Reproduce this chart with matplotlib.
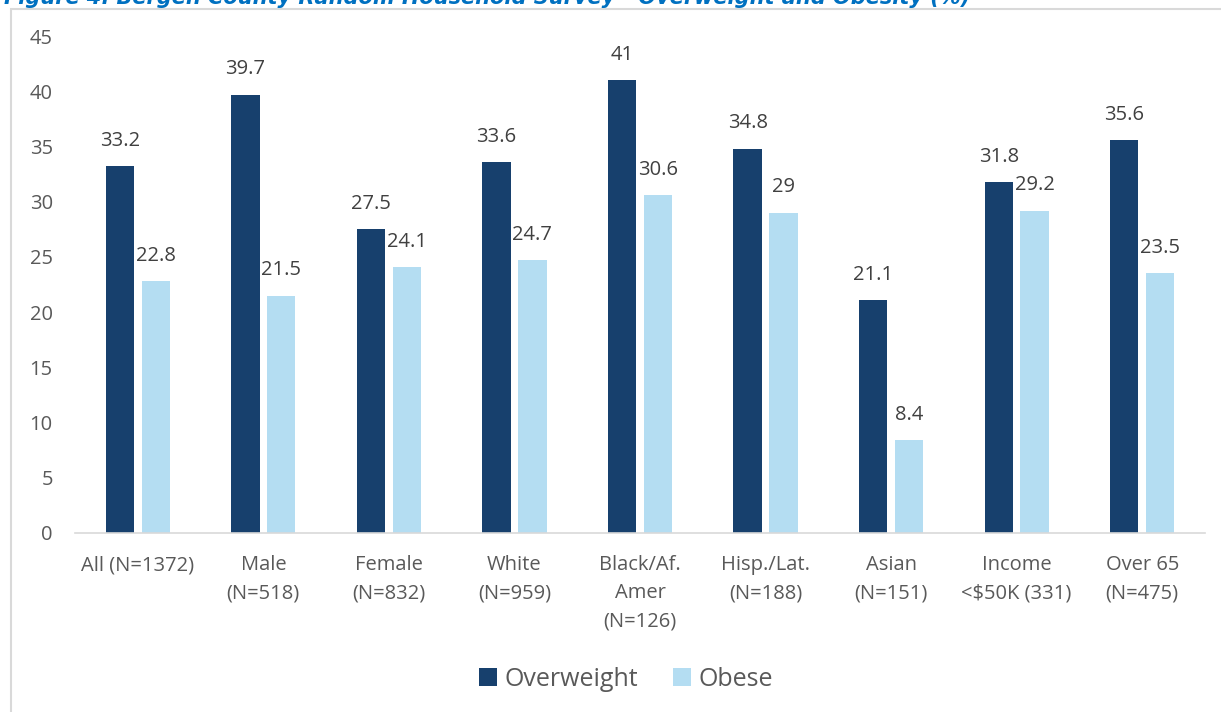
import matplotlib.pyplot as plt
import numpy as np
from matplotlib.patches import Rectangle

categories = ['All (N=1372)', 'Male\n(N=518)', 'Female\n(N=832)', 'White\n(N=959)',
              'Black/Af.\nAmer\n(N=126)', 'Hisp./Lat.\n(N=188)', 'Asian\n(N=151)',
              'Income\n<$50K (331)', 'Over 65\n(N=475)']
overweight = [33.2, 39.7, 27.5, 33.6, 41, 34.8, 21.1, 31.8, 35.6]
obese = [22.8, 21.5, 24.1, 24.7, 30.6, 29, 8.4, 29.2, 23.5]

plt.rcParams['font.family'] = ['Open Sans', 'DejaVu Sans']

fig = plt.figure(figsize=(12.21, 7.12), dpi=100)
W, H = 1221, 712
ax = fig.add_axes([75 / W, 1 - 533 / H, 1130 / W, (533 - 36) / H])

# chart border (cut at right/bottom like the source)
fig.patches.append(Rectangle((11 / W, -0.01), 1.0, 1 - 9 / H - (-0.01), transform=fig.transFigure,
                             fill=False, edgecolor='#d9d9d9', linewidth=1.5))

fig.text(4 / W, 1 - 4 / H, 'Figure 4. Bergen County Random Household Survey - Overweight and Obesity (%)',
         color='#0070c0', fontsize=15, fontweight='bold', fontstyle='italic',
         family=['Liberation Sans Narrow', 'DejaVu Sans'], va='baseline', ha='left')

x = np.arange(len(categories))
w = 0.225
off = 0.143
b1 = ax.bar(x - off, overweight, w, color='#17406d', label='Overweight')
b2 = ax.bar(x + off, obese, w, color='#b4ddf2', label='Obese')

for bars, vals in ((b1, overweight), (b2, obese)):
    for r, v in zip(bars, vals):
        ax.annotate(f'{v:g}', (r.get_x() + r.get_width() / 2, v), xytext=(0, 11),
                    textcoords='offset points', ha='center', va='bottom',
                    fontsize=14.5, color='#404040')

ax.set_xlim(-0.5, len(categories) - 0.5)
ax.set_ylim(0, 45)
ax.set_yticks(range(0, 46, 5))
ax.set_xticks(x)
ax.set_xticklabels(categories, linespacing=1.55)
ax.tick_params(axis='both', length=0, labelsize=14.5, colors='#595959')
ax.tick_params(axis='x', pad=16)
ax.tick_params(axis='y', pad=16)
for s in ['top', 'right', 'left']:
    ax.spines[s].set_visible(False)
ax.spines['bottom'].set_color('#d9d9d9')
ax.spines['bottom'].set_linewidth(1.2)

leg = fig.legend(handles=[b1, b2], loc='center', bbox_to_anchor=(626 / W, 1 - 679 / H), ncol=2,
                 frameon=False, fontsize=18, handlelength=0.7, handleheight=0.7,
                 handletextpad=0.3, columnspacing=1.4)
for t in leg.get_texts():
    t.set_color('#595959')

fig.savefig('out.png', dpi=100)
